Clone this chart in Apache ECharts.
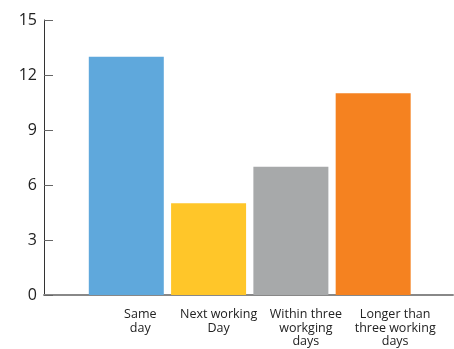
<!DOCTYPE html>
<html><head><meta charset="utf-8">
<script src="https://cdn.jsdelivr.net/npm/echarts@6/dist/echarts.min.js"></script>
<style>html,body{margin:0;padding:0;background:#fff}#c{width:454px;height:349px}</style>
</head><body><div id="c"></div>
<script>
const categories = ['Same\nday', 'Next working\nDay', 'Within three\nworkging\ndays', 'Longer than\nthree working\ndays'];
const values = [13, 5, 7, 11];
const colors = ['#5FA8DC', '#FFC629', '#A7A9AA', '#F58220'];
const yTicks = [0, 3, 6, 9, 12, 15];
const labelShift = [14, 10, 15, 22];

const chart = echarts.init(document.getElementById('c'), null, {renderer: 'canvas'});
const rich = {};
labelShift.forEach((s, i) => { rich['l' + i] = {padding: [0, 0, 0, 2 * s], lineHeight: 13.5, fontSize: 12.5, color: '#222', fontFamily: 'Open Sans', align: 'center'}; });
chart.setOption({
  animation: false,
  grid: {left: 44, right: 1, top: 20, bottom: 54},
  xAxis: {
    type: 'value', min: 0, max: 4.97, interval: 1,
    splitLine: {show: false},
    axisLine: {show: true, lineStyle: {color: '#888', width: 2}},
    axisTick: {show: false},
    axisLabel: {
      margin: 13, fontFamily: 'Open Sans', fontSize: 12.5, color: '#222', lineHeight: 13.5,
      showMaxLabel: false, showMinLabel: false,
      formatter: v => {
        const i = Math.round(v) - 1;
        if (Math.abs(v - Math.round(v)) > 1e-6 || i < 0 || i >= categories.length) return '';
        return categories[i].split('\n').map(t => '{l' + i + '|' + t + '}').join('\n');
      },
      rich: rich
    }
  },
  yAxis: {
    type: 'value', min: yTicks[0], max: yTicks[yTicks.length - 1], interval: 3,
    splitLine: {show: false},
    axisLine: {show: true, lineStyle: {color: '#333', width: 1}},
    axisTick: {show: true, inside: true, length: 9, lineStyle: {color: '#666'}},
    axisLabel: {fontFamily: 'Open Sans', fontSize: 16, color: '#222', margin: 7}
  },
  series: [{
    type: 'bar',
    barWidth: 75,
    data: values.map((v, i) => ({value: [i + 1, v], itemStyle: {color: colors[i]}}))
  }]
});
</script></body></html>
